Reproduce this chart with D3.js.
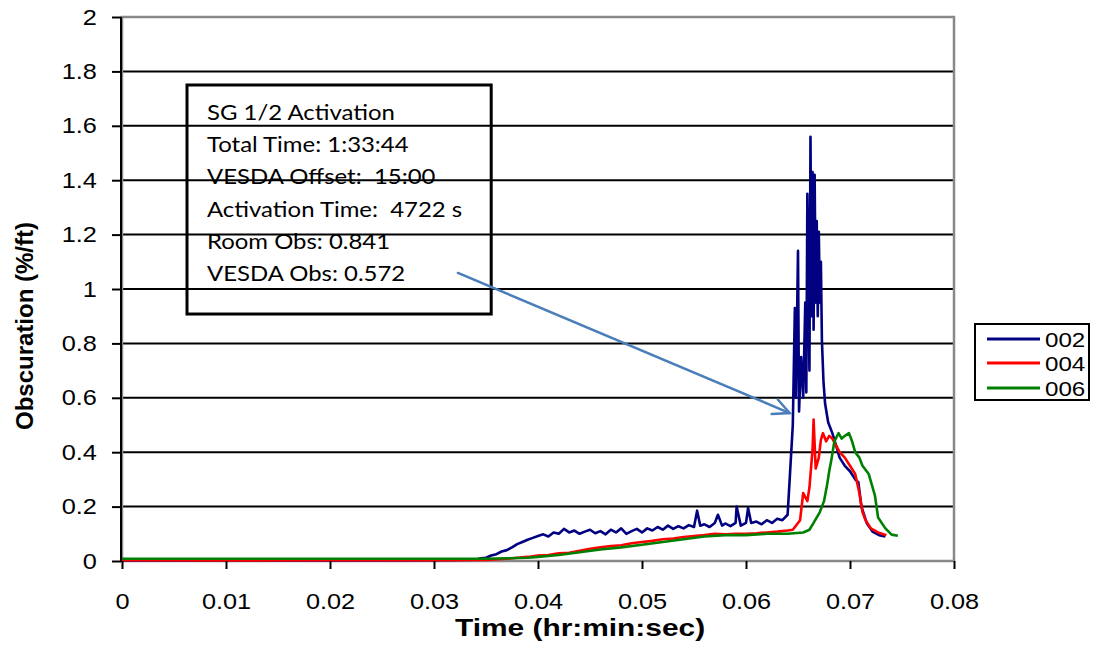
<!DOCTYPE html>
<html>
<head>
<meta charset="utf-8">
<script src="https://cdn.jsdelivr.net/npm/d3@7"></script>
<style>
  html, body { margin: 0; padding: 0; background: #fff; }
  svg { display: block; }
  text { white-space: pre; }
</style>
</head>
<body>
<svg id="chart" width="1098" height="649"></svg>
<script>
// ---------- DATA ----------
const xTicks = [0, 0.01, 0.02, 0.03, 0.04, 0.05, 0.06, 0.07, 0.08];
const yTicks = [0, 0.2, 0.4, 0.6, 0.8, 1, 1.2, 1.4, 1.6, 1.8, 2];
const seriesNames = ["002", "004", "006"];
const seriesColors = ["#000080", "#ff0000", "#008000"];

const time002 = [0, 0.010, 0.020, 0.030, 0.034, 0.0345, 0.035, 0.0355, 0.036, 0.0365, 0.037, 0.0375, 0.038, 0.0385, 0.039, 0.0395,
  0.040, 0.0405, 0.041, 0.0415, 0.042, 0.0425, 0.043, 0.0435, 0.044, 0.0445, 0.045, 0.0455, 0.046, 0.0465, 0.047, 0.0475,
  0.048, 0.0485, 0.049, 0.0495, 0.050, 0.0505, 0.051, 0.0515, 0.052, 0.0525, 0.053, 0.0535, 0.054, 0.0545, 0.055, 0.0553,
  0.0556, 0.056, 0.0565, 0.057, 0.0573, 0.0577, 0.058, 0.0585, 0.059, 0.0591, 0.0595, 0.060, 0.0602, 0.0605, 0.061, 0.0615,
  0.062, 0.0625, 0.063, 0.0635, 0.064, 0.0642, 0.0645, 0.0647, 0.0648, 0.0650, 0.0651, 0.0653, 0.0655, 0.0657, 0.0658,
  0.0659, 0.0661, 0.0662, 0.0663, 0.0664, 0.0665, 0.0666, 0.0667, 0.0668, 0.0669, 0.0670, 0.0671, 0.0672, 0.0673, 0.06745,
  0.0676, 0.0679, 0.0683, 0.0687, 0.0690, 0.0695, 0.0700, 0.0705, 0.0708, 0.0711, 0.0716, 0.0722, 0.0728, 0.0734];
const obs002 = [0.002, 0.002, 0.002, 0.003, 0.005, 0.01, 0.012, 0.02, 0.025, 0.035, 0.04, 0.05, 0.062, 0.07, 0.078, 0.085,
  0.092, 0.098, 0.09, 0.105, 0.1, 0.118, 0.105, 0.112, 0.1, 0.108, 0.115, 0.102, 0.11, 0.098, 0.115, 0.105,
  0.12, 0.1, 0.11, 0.118, 0.105, 0.12, 0.112, 0.125, 0.115, 0.13, 0.118, 0.128, 0.12, 0.132, 0.125, 0.185,
  0.13, 0.135, 0.125, 0.14, 0.17, 0.13, 0.138, 0.128, 0.14, 0.2, 0.13, 0.14, 0.195, 0.14, 0.145, 0.135,
  0.15, 0.14, 0.155, 0.15, 0.17, 0.3, 0.5, 0.93, 0.6, 1.14, 0.55, 0.75, 0.6, 0.95, 0.62,
  1.35, 0.7, 1.56, 0.9, 1.43, 0.85, 1.42, 0.95, 1.25, 0.9, 1.21, 0.95, 1.1, 0.81, 0.66,
  0.58, 0.51, 0.47, 0.42, 0.38, 0.35, 0.33, 0.3, 0.29, 0.2, 0.14, 0.107, 0.095, 0.09];

const time004 = [0, 0.01, 0.02, 0.03, 0.035, 0.037, 0.038, 0.039, 0.040, 0.041, 0.042, 0.043, 0.044, 0.045, 0.046, 0.047,
  0.048, 0.049, 0.050, 0.051, 0.052, 0.053, 0.054, 0.055, 0.056, 0.057, 0.058, 0.059, 0.060, 0.061, 0.062, 0.063,
  0.064, 0.0645, 0.0652, 0.0655, 0.0659, 0.0661, 0.0664, 0.0665, 0.0667, 0.0670, 0.0672, 0.0674, 0.0677, 0.0680,
  0.0683, 0.0686, 0.0690, 0.0695, 0.0700, 0.0705, 0.0709, 0.0712, 0.0715, 0.0720, 0.0727, 0.0735];
const obs004 = [0.003, 0.002, 0.003, 0.003, 0.004, 0.008, 0.012, 0.015, 0.02, 0.022, 0.028, 0.03, 0.038, 0.045, 0.05, 0.055,
  0.058, 0.065, 0.07, 0.074, 0.08, 0.083, 0.088, 0.092, 0.095, 0.1, 0.098, 0.1, 0.1, 0.102, 0.105, 0.108,
  0.112, 0.115, 0.15, 0.25, 0.22, 0.27, 0.41, 0.52, 0.34, 0.38, 0.445, 0.47, 0.44, 0.46,
  0.45, 0.43, 0.4, 0.38, 0.35, 0.32, 0.25, 0.18, 0.15, 0.12, 0.105, 0.095];

const time006 = [0, 0.01, 0.02, 0.03, 0.035, 0.037, 0.039, 0.040, 0.042, 0.044, 0.046, 0.048, 0.050, 0.052, 0.054, 0.056,
  0.058, 0.060, 0.062, 0.064, 0.0655, 0.0661, 0.0665, 0.0671, 0.0675, 0.0678, 0.0680, 0.0682, 0.0685, 0.0689, 0.0692,
  0.0695, 0.0699, 0.0702, 0.0705, 0.0709, 0.0712, 0.0718, 0.0721, 0.0724, 0.0727, 0.0734, 0.0740, 0.0746];
const obs006 = [0.008, 0.008, 0.008, 0.008, 0.008, 0.01, 0.012, 0.015, 0.022, 0.032, 0.042, 0.05, 0.06, 0.07, 0.08, 0.09,
  0.095, 0.095, 0.1, 0.1, 0.105, 0.115, 0.14, 0.18, 0.22, 0.28, 0.33, 0.37, 0.44, 0.47, 0.45,
  0.46, 0.47, 0.44, 0.4, 0.38, 0.35, 0.32, 0.28, 0.24, 0.16, 0.12, 0.097, 0.093];

const annotationLines = ["SG 1/2 Activation", "Total Time: 1:33:44", "VESDA Offset:  15:00",
  "Activation Time:  4722 s", "Room Obs: 0.841", "VESDA Obs: 0.572"];
// annotation box and arrow, in data coordinates
const boxCorners = [[0.00625, 1.75], [0.0355, 0.908]];
const arrowFromTo = [[0.0323, 1.059], [0.0642, 0.544]];

// ---------- LAYOUT ----------
const svg = d3.select("#chart");
const L = 122, R = 954, T = 17, B = 561;
const x = d3.scaleLinear().domain([0, 0.08]).range([L, R]);
const y = d3.scaleLinear().domain([0, 2]).range([B, T]);
const FONT = "'Liberation Sans', Arial, sans-serif";

// gridlines
svg.append("g").selectAll("line")
  .data(yTicks.filter(v => v > 0 && v < 2))
  .join("line")
  .attr("x1", L).attr("x2", R)
  .attr("y1", d => y(d)).attr("y2", d => y(d))
  .attr("stroke", "#000").attr("stroke-width", 2);

// plot border (gray)
svg.append("rect")
  .attr("x", L).attr("y", T).attr("width", R - L).attr("height", B - T)
  .attr("fill", "none").attr("stroke", "#888").attr("stroke-width", 2.5);

// annotation box
const bx = x(boxCorners[0][0]), by = y(boxCorners[0][1]);
svg.append("rect")
  .attr("x", bx).attr("y", by)
  .attr("width", x(boxCorners[1][0]) - bx)
  .attr("height", y(boxCorners[1][1]) - by)
  .attr("fill", "none").attr("stroke", "#000").attr("stroke-width", 3);

const ann = svg.append("g")
  .attr("font-family", "Lato, 'Open Sans', sans-serif")
  .attr("font-size", 21).attr("fill", "#000");
ann.selectAll("text").data(annotationLines).join("text")
  .attr("transform", (d, i) => `translate(${bx + 20},${by + 35 + i * 32.2}) scale(1.14,1)`)
  .text(d => d);

// series (drawn in series order, later on top)
const series = [
  { t: time002, v: obs002 },
  { t: time004, v: obs004 },
  { t: time006, v: obs006 }
];
const line = d3.line().x(d => x(d[0])).y(d => y(d[1]));
[0, 1, 2].forEach(i => {
  const pts = series[i].t.map((t, k) => [t, series[i].v[k]]);
  svg.append("path").datum(pts)
    .attr("d", line)
    .attr("fill", "none")
    .attr("stroke", seriesColors[i])
    .attr("stroke-width", 2.6)
    .attr("stroke-linejoin", "round");
});

// arrow
const ax1 = x(arrowFromTo[0][0]), ay1 = y(arrowFromTo[0][1]);
const ax2 = x(arrowFromTo[1][0]), ay2 = y(arrowFromTo[1][1]);
const ang = Math.atan2(ay2 - ay1, ax2 - ax1);
const headLen = 18, headAng = 0.45;
const arrowG = svg.append("g").attr("stroke", "#4a7ebb").attr("stroke-width", 2.5)
  .attr("fill", "none").attr("stroke-linecap", "round");
arrowG.append("line").attr("x1", ax1).attr("y1", ay1).attr("x2", ax2).attr("y2", ay2);
arrowG.append("polyline").attr("points", [
  [ax2 - headLen * Math.cos(ang - headAng), ay2 - headLen * Math.sin(ang - headAng)],
  [ax2, ay2],
  [ax2 - headLen * Math.cos(ang + headAng), ay2 - headLen * Math.sin(ang + headAng)]
].map(p => p.join(",")).join(" "));

// left axis line
svg.append("line").attr("x1", L - 1).attr("x2", L - 1).attr("y1", T).attr("y2", B + 1)
  .attr("stroke", "#000").attr("stroke-width", 2);

// y axis
const yAxis = d3.axisLeft(y).tickValues(yTicks).tickSize(9).tickPadding(12)
  .tickFormat(d => d3.format("~g")(d));
const yg = svg.append("g").attr("transform", `translate(${L - 1},0)`).call(yAxis);
yg.select(".domain").remove();
yg.selectAll(".tick line").attr("stroke", "#000").attr("stroke-width", 2);
yg.selectAll(".tick text").attr("font-family", FONT)
  .attr("font-size", 22).attr("fill", "#000").attr("transform", "scale(1.15,1)");

// x axis
const xAxis = d3.axisBottom(x).tickValues(xTicks).tickSize(8).tickPadding(24)
  .tickFormat(d => d3.format("~g")(d));
const xg = svg.append("g").attr("transform", `translate(0,${B})`).call(xAxis);
xg.select(".domain").remove();
xg.selectAll(".tick line").attr("stroke", "#000").attr("stroke-width", 2);
xg.selectAll(".tick text").attr("font-family", FONT)
  .attr("font-size", 22).attr("fill", "#000").attr("transform", "scale(1.15,1)");

// axis titles
svg.append("text")
  .attr("transform", "translate(580,635.5) scale(1.3,1)")
  .attr("text-anchor", "middle")
  .attr("font-family", FONT)
  .attr("font-weight", "bold").attr("font-size", 23)
  .text("Time (hr:min:sec)");
svg.append("text")
  .attr("transform", "translate(33,326) rotate(-90)")
  .attr("text-anchor", "middle")
  .attr("font-family", FONT)
  .attr("font-weight", "bold").attr("font-size", 24)
  .text("Obscuration (%/ft)");

// legend
const lg = svg.append("g");
lg.append("rect").attr("x", 975).attr("y", 324).attr("width", 114).attr("height", 76)
  .attr("fill", "#fff").attr("stroke", "#000").attr("stroke-width", 2);
const legY = [339, 363, 388];
seriesNames.forEach((name, i) => {
  lg.append("line").attr("x1", 987).attr("x2", 1040).attr("y1", legY[i]).attr("y2", legY[i])
    .attr("stroke", seriesColors[i]).attr("stroke-width", 3);
  lg.append("text").attr("transform", `translate(1045,${legY[i] + 8}) scale(1.15,1)`)
    .attr("font-family", FONT)
    .attr("font-size", 21).attr("fill", "#000").text(name);
});
</script>
</body>
</html>
